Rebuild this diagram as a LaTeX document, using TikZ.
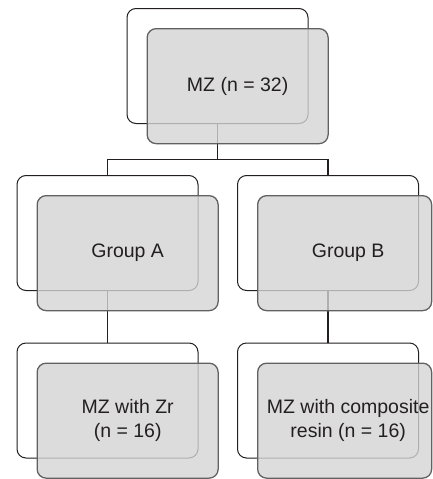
\documentclass[tikz,border=0pt]{standalone}
\usepackage{fontspec}
\setmainfont{Liberation Sans}
\definecolor{ink}{RGB}{35,31,32}
\begin{document}
\begin{tikzpicture}[x=1pt,y=-1pt,
  outline/.style={draw=ink,line width=1pt,rounded corners=9pt,
    minimum width=181pt,minimum height=115pt,inner sep=0pt,fill=white},
  shade/.style={draw=black!62,line width=1.3pt,rounded corners=9pt,
    fill=black!17,fill opacity=0.8,
    minimum width=181pt,minimum height=115pt,inner sep=0pt,anchor=north west},
  narrow/.style={minimum width=174pt},
  link/.style={draw=ink,line width=1.6pt},
  lbl/.style={text=ink,align=center,inner sep=0pt,
    font=\fontsize{19.5}{24}\selectfont}]
\useasboundingbox (0,0) rectangle (433,479);

% back outlines
\node[outline] (topw) at (217.5,66) {};
\node[outline] (aw) at (107.5,233) {};
\node[outline] (bw) at (328,233) {};
\node[outline] (cw) at (107.5,400.5) {};
\node[outline] (dw) at (328,400.5) {};

% tree connectors
\coordinate (split) at (217.5,159.5);
\draw[link] (topw.south) -- (split) -| (aw.north);
\draw[link] (split) -| (bw.north);
\draw[link] (aw.south) -- (cw.north);
\draw[link] (bw.south) -- (dw.north);

% translucent front panels
\node[shade] (topg) at ([shift={(20,20)}]topw.north west) {};
\node[shade] (ag) at ([shift={(20,20)}]aw.north west) {};
\node[shade,narrow] (bg) at ([shift={(20,20)}]bw.north west) {};
\node[shade] (cg) at ([shift={(20,20)}]cw.north west) {};
\node[shade,narrow] (dg) at ([shift={(20,20)}]dw.north west) {};

% labels
\node[lbl] (topt) at (topg.center) {MZ (n = 32)};
\node[lbl] (at) at (ag.center) {Group A};
\node[lbl] (bt) at ([shift={(3.5,0)}]bg.center) {Group B};
\node[lbl] (ct) at (cg.center) {MZ with Zr\\(n = 16)};
\node[lbl] (dt) at ([shift={(3.5,0)}]dg.center) {MZ with composite\\resin (n = 16)};
\end{tikzpicture}
\end{document}
